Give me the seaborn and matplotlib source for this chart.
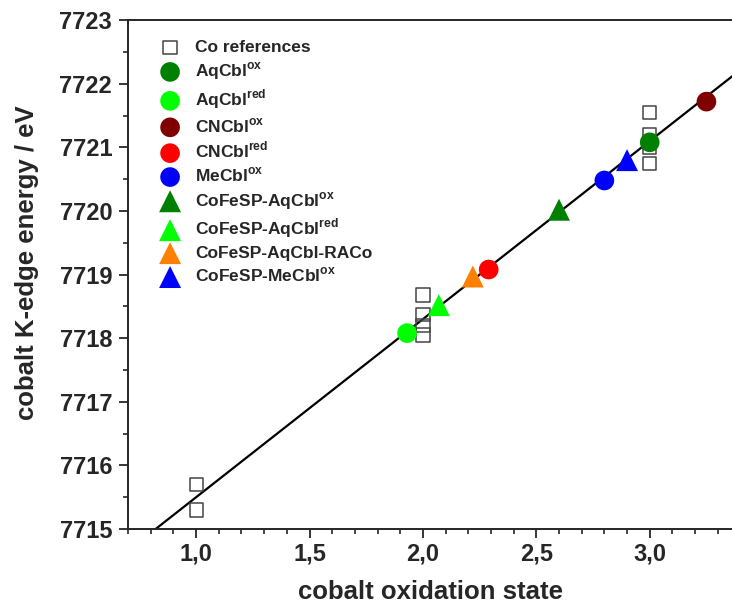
import numpy as np
import pandas as pd
import matplotlib
matplotlib.use("Agg")
import matplotlib.pyplot as plt
from matplotlib.ticker import FuncFormatter, MultipleLocator
import seaborn as sns

# Co reference compounds (open squares)
ref_ox = [1, 1, 2, 2, 2, 2, 3, 3, 3, 3]
ref_energy = [7715.7, 7715.3, 7718.68, 7718.37, 7718.2, 7718.05,
              7721.55, 7721.2, 7721.0, 7720.75]

# samples
names = [r'AqCbl$^{\mathbf{ox}}$', r'AqCbl$^{\mathbf{red}}$', r'CNCbl$^{\mathbf{ox}}$',
         r'CNCbl$^{\mathbf{red}}$', r'MeCbl$^{\mathbf{ox}}$', r'CoFeSP-AqCbl$^{\mathbf{ox}}$',
         r'CoFeSP-AqCbl$^{\mathbf{red}}$', 'CoFeSP-AqCbl-RACo', r'CoFeSP-MeCbl$^{\mathbf{ox}}$']
sample_ox = [3.0, 1.93, 3.25, 2.29, 2.80, 2.60, 2.07, 2.22, 2.90]
sample_energy = [7721.08, 7718.08, 7721.72, 7719.08, 7720.48, 7720.02, 7718.52, 7718.97, 7720.80]
colors = ['#008000', '#00ff00', '#800000', '#ff0000', '#0000ff',
          '#008000', '#00ff00', '#ff8000', '#0000ff']
markers = ['o', 'o', 'o', 'o', 'o', '^', '^', '^', '^']

# linear calibration fit
fit_slope = 2.80
fit_intercept = 7712.70

sns.set_style("ticks")
plt.rcParams['font.family'] = ['Liberation Sans', 'DejaVu Sans']
plt.rcParams['font.weight'] = 'bold'
plt.rcParams['mathtext.fontset'] = 'custom'
plt.rcParams['mathtext.bf'] = 'Liberation Sans:bold'
plt.rcParams['mathtext.rm'] = 'Liberation Sans:bold'

fig = plt.figure(figsize=(7.32, 6.05), dpi=100)
ax = fig.add_axes([0.175, 0.1256, 0.826, 0.841])

xlim = (0.7, 3.366)
xs = np.array(xlim)
ax.plot(xs, fit_intercept + fit_slope * xs, color='black', lw=1.6, zorder=2)

ref_df = pd.DataFrame({'ox': ref_ox, 'E': ref_energy})
sns.scatterplot(data=ref_df, x='ox', y='E', ax=ax, marker='s', s=90,
                facecolors='none', edgecolor='#444444', linewidth=1.1,
                label='Co references', zorder=3)

for n, x, y, c, m in zip(names, sample_ox, sample_energy, colors, markers):
    sz = 200 if m == 'o' else 250
    sns.scatterplot(x=[x], y=[y], ax=ax, marker=m, s=sz, color=c,
                    edgecolor='none', label=n, zorder=4)

ax.set_xlim(*xlim)
ax.set_ylim(7715, 7723)
ax.xaxis.set_major_locator(MultipleLocator(0.5))
ax.xaxis.set_minor_locator(MultipleLocator(0.1))
ax.yaxis.set_major_locator(MultipleLocator(1))
ax.yaxis.set_minor_locator(MultipleLocator(0.5))
ax.xaxis.set_major_formatter(FuncFormatter(lambda v, p: f"{v:.1f}".replace('.', ',')))
ax.yaxis.set_major_formatter(FuncFormatter(lambda v, p: f"{v:.0f}"))
ax.tick_params(which='major', length=6.5, width=1.3, labelsize=17, direction='out')
ax.tick_params(which='minor', length=3.6, width=1.2, direction='out')
ax.tick_params(axis='y', which='major', pad=5)
for s in ['left', 'bottom', 'top']:
    ax.spines[s].set_linewidth(1.4)
ax.spines['right'].set_visible(False)

ax.set_xlabel('cobalt oxidation state', fontsize=18.5, fontweight='bold', labelpad=10.5)
ax.set_ylabel('cobalt K-edge energy / eV', fontsize=18.5, fontweight='bold')
ax.yaxis.set_label_coords(-0.148, 0.523)

leg = ax.legend(loc='upper left', bbox_to_anchor=(0.012, 0.995), frameon=False,
                fontsize=12.5, labelspacing=0.3, handletextpad=0.45,
                borderaxespad=0.6, markerscale=1.0)

fig.savefig('out.png', dpi=100)
